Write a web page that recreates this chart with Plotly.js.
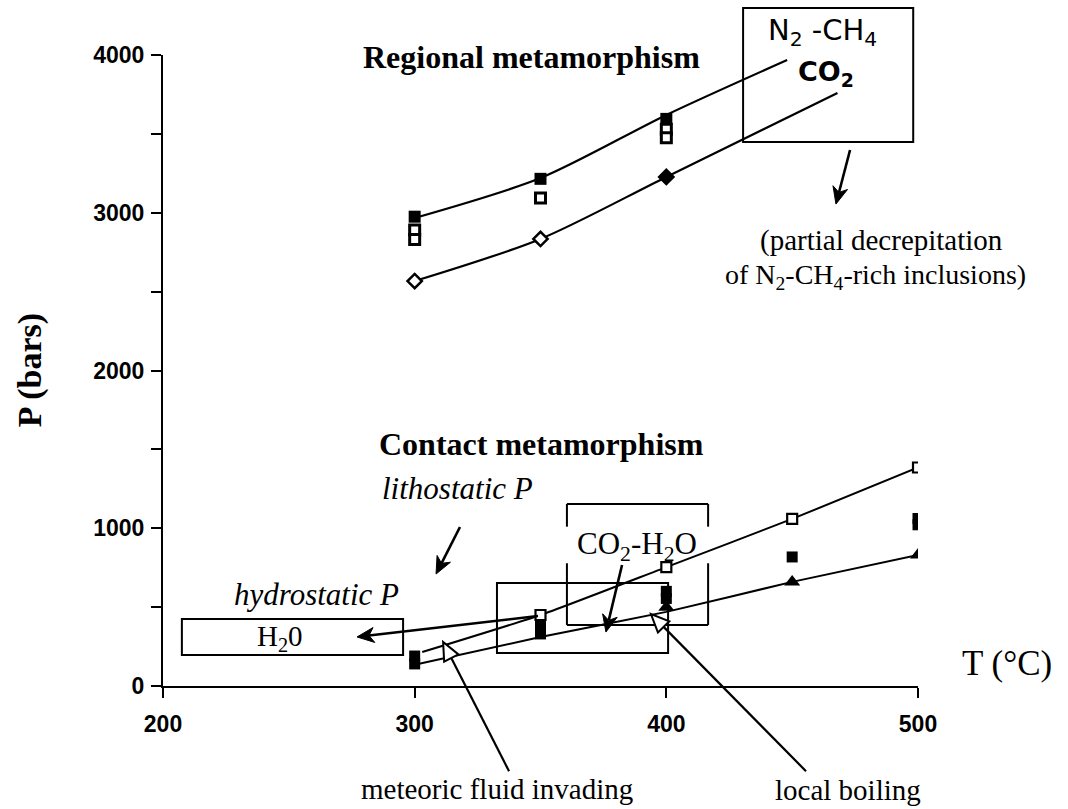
<!DOCTYPE html>
<html>
<head>
<meta charset="utf-8">
<script src="https://cdn.plot.ly/plotly-3.0.1.min.js"></script>
<style>html,body{margin:0;padding:0;background:#fff;}#chart{width:1068px;height:809px;}</style>
</head>
<body>
<div id="chart"></div>
<script>
// ---------------- data ----------------
// axis ticks
const T_TICKS = [200, 300, 400, 500];
const T_TICK_TEXT = ['200', '300', '400', '500'];
const P_TICKS = [0, 1000, 2000, 3000, 4000];
const P_TICK_TEXT = ['0', '1000', '2000', '3000', '4000'];
const P_MINOR_TICKS = [500, 1500, 2500, 3500];

// Regional metamorphism: N2-CH4 curve and points
const n2ch4CurveT = [300, 350, 400, 448];
const n2ch4CurveP = [2967, 3220, 3620, 3968];
const regFilledSqT = [300, 350, 400];
const regFilledSqP = [2975, 3215, 3595];
const regOpenSqT = [300, 300, 350, 400, 400];
const regOpenSqP = [2890, 2830, 3093, 3530, 3475];

// Regional metamorphism: CO2 curve and points
const co2CurveT = [300, 350, 400, 468];
const co2CurveP = [2567, 2834, 3227, 3759];
const co2DiamondT = [300, 350, 400];
const co2DiamondP = [2567, 2834, 3227];

// Contact metamorphism: lithostatic (open squares) curve
const lithoCurveT = [303, 350, 400, 450, 500];
const lithoCurveP = [215, 450, 754, 1059, 1385];
const contactOpenSqT = [350, 400, 450, 500];
const contactOpenSqP = [450, 754, 1059, 1385];

// Contact metamorphism: lower (triangles) curve
const lowCurveT = [300, 350, 400, 450, 500];
const lowCurveP = [135, 310, 470, 660, 830];
const contactTriT = [400, 450, 500];
const contactTriP = [500, 660, 830];

// Contact metamorphism: filled squares
const contactFilledSqT = [300, 300, 350, 350, 400, 400, 450, 500, 500];
const contactFilledSqP = [190, 140, 385, 330, 600, 555, 818, 1062, 1022];

// ---------------- layout helpers ----------------
const W = 1068, H = 809;
const M = {l: 163, r: 150, t: 55, b: 123};
const PW = W - M.l - M.r, PH = H - M.t - M.b;
const XR = [200, 500], YR = [0, 4000];
const pxF = T => (T - XR[0]) / (XR[1] - XR[0]);   // paper fraction
const pyF = P => (P - YR[0]) / (YR[1] - YR[0]);
const toPix = (T, P) => [pxF(T) * PW, pyF(P) * PH];  // pixel offsets inside plot (y up)
const pp = (x, y) => (x / PW) + ',' + (y / PH);

const SERIF = 'Liberation Serif, DejaVu Serif, serif';
const SANS = 'Liberation Sans, Arial, sans-serif';
const DSANS = 'DejaVu Sans, Liberation Sans, sans-serif';
const black = '#000';

const traces = [
  {x: n2ch4CurveT, y: n2ch4CurveP, mode: 'lines', line: {color: black, width: 2.2, shape: 'spline', smoothing: 0.8}},
  {x: co2CurveT, y: co2CurveP, mode: 'lines', line: {color: black, width: 2.2, shape: 'spline', smoothing: 0.8}},
  {x: lithoCurveT, y: lithoCurveP, mode: 'lines', line: {color: black, width: 2, shape: 'spline', smoothing: 0.5}},
  {x: lowCurveT, y: lowCurveP, mode: 'lines', line: {color: black, width: 2, shape: 'spline', smoothing: 0.5}},
  {x: regOpenSqT, y: regOpenSqP, mode: 'markers', marker: {symbol: 'square', size: 10, color: '#fff', line: {color: black, width: 3}}},
  {x: regFilledSqT, y: regFilledSqP, mode: 'markers', marker: {symbol: 'square', size: 12, color: black}},
  {x: co2DiamondT, y: co2DiamondP, mode: 'markers', marker: {symbol: 'diamond', size: 11, color: ['#fff', '#fff', black], line: {color: black, width: 2.5}}},
  {x: contactFilledSqT, y: contactFilledSqP, mode: 'markers', marker: {symbol: 'square', size: 11, color: black}},
  {x: contactOpenSqT, y: contactOpenSqP, mode: 'markers', marker: {symbol: 'square', size: 10, color: '#fff', line: {color: black, width: 2.2}}},
  {x: contactTriT, y: contactTriP, mode: 'markers', marker: {symbol: 'triangle-up', size: 14, color: black}}
];

// ---------------- shapes ----------------
function rectShape(T0, T1, P0, P1) {
  return {type: 'rect', xref: 'paper', yref: 'paper', x0: pxF(T0), x1: pxF(T1), y0: pyF(P0), y1: pyF(P1),
          line: {color: black, width: 2}, fillcolor: 'rgba(0,0,0,0)', layer: 'above'};
}
function lineShape(T0, P0, T1, P1) {
  return {type: 'line', xref: 'paper', yref: 'paper', x0: pxF(T0), y0: pyF(P0), x1: pxF(T1), y1: pyF(P1),
          line: {color: black, width: 2}, layer: 'above'};
}
// arrow from tail to tip; open = hollow white triangle, otherwise filled barbed head
function arrowShapes(tailT, tailP, tipT, tipP, open) {
  const [tx, ty] = toPix(tipT, tipP);
  const [sx, sy] = toPix(tailT, tailP);
  const dx = tx - sx, dy = ty - sy, len = Math.hypot(dx, dy);
  const ux = dx / len, uy = dy / len;
  const L = open ? 18 : 17, HW = open ? 8 : 7.5, notch = open ? 0 : 5;
  const bx = tx - ux * L, by = ty - uy * L;
  const c1 = [bx - uy * HW, by + ux * HW], c2 = [bx + uy * HW, by - ux * HW];
  const nx = bx + ux * notch, ny = by + uy * notch;
  const endX = open ? bx : nx, endY = open ? by : ny;
  const path = open
    ? 'M' + pp(tx, ty) + 'L' + pp(c1[0], c1[1]) + 'L' + pp(c2[0], c2[1]) + 'Z'
    : 'M' + pp(tx, ty) + 'L' + pp(c1[0], c1[1]) + 'L' + pp(nx, ny) + 'L' + pp(c2[0], c2[1]) + 'Z';
  return [
    {type: 'line', xref: 'paper', yref: 'paper', x0: sx / PW, y0: sy / PH, x1: endX / PW, y1: endY / PH,
     line: {color: black, width: open ? 2.2 : 2.6}, layer: 'above'},
    {type: 'path', xref: 'paper', yref: 'paper', path: path,
     fillcolor: open ? '#fff' : black, line: {color: black, width: open ? 2 : 1}, layer: 'above'}
  ];
}

const shapes = [
  rectShape(430.5, 498.1, 3449, 4298),     // N2-CH4 / CO2 box
  rectShape(332.7, 400.7, 209, 653),       // lower contact box
  rectShape(207.5, 295.4, 197, 425),       // H2O box
  // CO2-H2O box drawn with gaps where the label sits
  lineShape(360.5, 1154, 416.6, 1154),
  lineShape(360.5, 387, 416.6, 387),
  lineShape(360.5, 1154, 360.5, 1010),
  lineShape(360.5, 778, 360.5, 387),
  lineShape(416.6, 1154, 416.6, 1010),
  lineShape(416.6, 778, 416.6, 387),
  ...arrowShapes(473.0, 3398, 467.4, 3055, false),  // from N2-CH4 box
  ...arrowShapes(318.0, 1008, 308.5, 710, false),   // lithostatic P
  ...arrowShapes(349.0, 444, 277.1, 311, false),    // to H2O box
  ...arrowShapes(382.4, 767, 376.0, 342, false),    // CO2-H2O
  ...arrowShapes(337.5, -540, 311.3, 279, true),    // meteoric fluid invading
  ...arrowShapes(455.5, -540, 393.9, 456, true)     // local boiling
];

// ---------------- annotations ----------------
function label(T, P, text, size, family, extra) {
  return Object.assign({xref: 'paper', yref: 'paper', x: pxF(T), y: pyF(P), text: text, showarrow: false,
    xanchor: 'center', yanchor: 'middle', font: {family: family, size: size, color: black}}, extra || {});
}
const boldFont = (f, s) => ({font: {family: f, size: s, color: black, weight: 'bold'}});

const annotations = [
  label(346.6, 3987, 'Regional metamorphism', 32, SERIF, boldFont(SERIF, 32)),
  label(462.2, 4146, 'N<sub>2</sub> -CH<sub>4</sub>', 29, DSANS),
  label(463.4, 3885, 'CO<sub>2</sub>', 27, DSANS, boldFont(DSANS, 27)),
  label(485.3, 2827, '(partial decrepitation', 29, SERIF),
  label(483.3, 2597, 'of N<sub>2</sub>-CH<sub>4</sub>-rich inclusions)', 28, SERIF),
  label(350.5, 1534, 'Contact metamorphism', 32, SERIF, boldFont(SERIF, 32)),
  label(317.2, 1255, '<i>lithostatic P</i>', 31, SERIF),
  label(260.8, 577, '<i>hydrostatic P</i>', 31, SERIF),
  label(246.5, 304, 'H<sub>2</sub>0', 29, SERIF),
  label(388.3, 890, 'CO<sub>2</sub>-H<sub>2</sub>O', 31, SERIF),
  label(332.7, -654, 'meteoric fluid invading', 29, SERIF),
  label(472.2, -660, 'local boiling', 29, SERIF),
  label(535.5, 140, 'T (°C)', 35, SERIF),
  label(147.2, 2003, 'P (bars)', 34, SERIF, Object.assign({textangle: -90}, boldFont(SERIF, 34)))
];

const axisCommon = {
  ticks: 'outside', ticklen: 10, tickwidth: 2, tickcolor: black,
  showline: true, linewidth: 2, linecolor: black, showgrid: false, zeroline: false,
  tickfont: {family: SANS, size: 23, color: black, weight: 'bold'}
};

const layout = {
  width: W, height: H,
  margin: M,
  paper_bgcolor: '#fff', plot_bgcolor: '#fff',
  showlegend: false,
  hovermode: false,
  xaxis: Object.assign({range: XR, tickmode: 'array', tickvals: T_TICKS, ticktext: T_TICK_TEXT, ticklabelstandoff: 6}, axisCommon),
  yaxis: Object.assign({range: YR, tickmode: 'array', tickvals: P_TICKS, ticktext: P_TICK_TEXT, ticklabelstandoff: 2,
    minor: {tickmode: 'array', tickvals: P_MINOR_TICKS, ticks: 'outside', ticklen: 10, tickwidth: 2, tickcolor: black, showgrid: false}}, axisCommon),
  shapes: shapes,
  annotations: annotations
};

Plotly.newPlot('chart', traces, layout, {staticPlot: true, displayModeBar: false});
</script>
</body>
</html>
